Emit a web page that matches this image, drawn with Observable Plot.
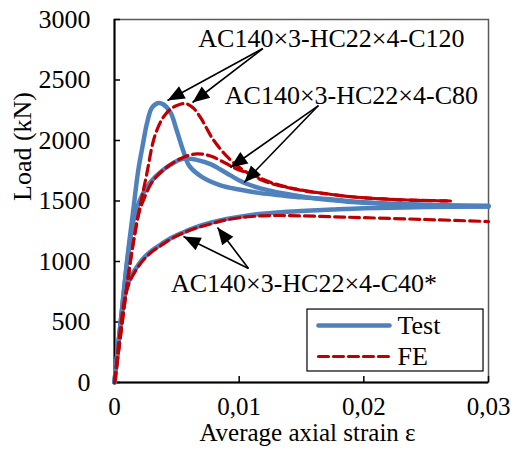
<!DOCTYPE html>
<html><head><meta charset="utf-8">
<script src="https://cdn.jsdelivr.net/npm/d3@7"></script>
<script src="https://cdn.jsdelivr.net/npm/@observablehq/plot@0.6"></script>
<style>body{margin:0;background:#fff} svg text{font-family:"Liberation Serif","Times New Roman",serif !important;}</style>
</head><body><div id="chart"></div>
<script>
// ---- data (strain, load kN) ----
const xTicks = [0, 0.01, 0.02, 0.03];
const yTicks = [0, 500, 1000, 1500, 2000, 2500, 3000];

const c120Test = [[0,0],[0.0005,500],[0.001,1000],[0.0015,1420],[0.0019,1750],[0.0023,1980],[0.0026,2140],[0.003,2270],[0.0035,2310],[0.0039,2300],[0.0045,2230],[0.005,2080],[0.0055,1920],[0.006,1790],[0.007,1700],[0.0085,1630],[0.01,1595],[0.0117,1565],[0.0135,1545],[0.015,1530],[0.0175,1512],[0.02,1490],[0.025,1468],[0.03,1460]];
const c120FE = [[0,0],[0.0005,400],[0.001,800],[0.0015,1150],[0.0021,1480],[0.0026,1730],[0.0031,1990],[0.0035,2110],[0.0039,2190],[0.0045,2260],[0.005,2290],[0.0057,2305],[0.0063,2270],[0.0069,2190],[0.0079,2010],[0.0091,1860],[0.0104,1750],[0.012,1665],[0.0135,1620],[0.015,1590],[0.019,1535],[0.023,1510],[0.027,1500]];
const c80Test = [[0,0],[0.0005,500],[0.001,980],[0.0015,1330],[0.002,1500],[0.0025,1600],[0.003,1670],[0.0037,1740],[0.0045,1800],[0.0052,1840],[0.0058,1852],[0.0066,1840],[0.0077,1805],[0.0085,1760],[0.0093,1712],[0.0103,1655],[0.0117,1605],[0.0136,1562],[0.0155,1530],[0.0173,1508],[0.02,1485],[0.025,1465],[0.03,1455]];
const c80FE = [[0,0],[0.0005,400],[0.001,800],[0.0015,1150],[0.0019,1380],[0.0023,1500],[0.0031,1669],[0.0042,1780],[0.0055,1860],[0.0066,1890],[0.0077,1872],[0.0088,1818],[0.0098,1765],[0.0109,1725],[0.0125,1655],[0.0149,1590],[0.017,1560],[0.019,1535],[0.023,1510],[0.027,1500]];
const c40Test = [[0,0],[0.0004,400],[0.0008,700],[0.0012,850],[0.0017,940],[0.0023,1025],[0.003,1090],[0.0037,1140],[0.0045,1192],[0.0055,1240],[0.0065,1282],[0.0077,1320],[0.009,1352],[0.011,1385],[0.013,1405],[0.015,1418],[0.0175,1430],[0.02,1440],[0.025,1450],[0.03,1455]];
const c40FE = [[0,0],[0.0004,380],[0.0008,680],[0.0012,830],[0.0017,925],[0.0023,1010],[0.003,1080],[0.0037,1130],[0.0045,1185],[0.0055,1235],[0.0065,1275],[0.0077,1310],[0.009,1345],[0.011,1372],[0.013,1380],[0.015,1377],[0.0175,1370],[0.02,1362],[0.025,1347],[0.03,1330]];

const seriesNames = ["C120", "C80", "C40"];
const testSeries = [c120Test, c80Test, c40Test];
const feSeries = [c120FE, c80FE, c40FE];

// annotation labels (data coordinates)
const labelTexts = ["AC140×3-HC22×4-C120", "AC140×3-HC22×4-C80", "AC140×3-HC22×4-C40*"];
const labelX = [0.0174, 0.0190, 0.0152];
const labelY = [2843, 2372, 818];
const arrowFromX = [0.0119, 0.0119, 0.01636, 0.01636, 0.01075, 0.01075];
const arrowFromY = [2760, 2760, 2289, 2289, 942, 942];
const arrowToX = [0.00425, 0.00626, 0.0093, 0.0104, 0.00553, 0.00826];
const arrowToY = [2330, 2314, 1777, 1653, 1207, 1281];

// legend
const legendNames = ["Test", "FE"];
const legendY = [471, 215];
const legendBox = {x1: 0.01548, x2: 0.0296, y1: 91, y2: 603};
const legendLineX = [0.01636, 0.02206];
const legendTextX = 0.0227;

// ---- layout ----
const W = 511, H = 452, mL = 114, mR = 23, mT = 19, mB = 70;
const kx = (W - mL - mR) / 0.03, ky = (H - mT - mB) / 3000;
const blue = "#4F81BD", red = "#C00000";
const font = "Liberation Serif, Times New Roman, serif";

const toRows = (arr, type) => arr.flatMap((s, i) => s.map(([x, y]) => ({series: seriesNames[i], type, x, y})));
const testRows = toRows(testSeries, "Test");
const feRows = toRows(feSeries, "FE");

const arrows = arrowToX.map((x2, i) => {
  const dx = (x2 - arrowFromX[i]) * kx;
  const dy = -(arrowToY[i] - arrowFromY[i]) * ky;
  return {x1: arrowFromX[i], y1: arrowFromY[i], x2, y2: arrowToY[i], rot: Math.atan2(dx, -dy) * 180 / Math.PI};
});
const headSymbol = {draw(ctx) { ctx.moveTo(0, 0); ctx.lineTo(-7, 17); ctx.lineTo(7, 17); ctx.closePath(); }};

const labels = labelTexts.map((t, i) => ({t, x: labelX[i], y: labelY[i]}));
const legendRows = legendNames.map((n, i) => ({n, y: legendY[i]}));
const legendLines = legendRows.flatMap(r => legendLineX.map(x => ({n: r.n, x, y: r.y})));

const fmt = d => d === 0 ? "0" : d.toFixed(2).replace(".", ",");

const chart = Plot.plot({
  width: W, height: H,
  marginLeft: mL, marginRight: mR, marginTop: mT, marginBottom: mB,
  style: {fontFamily: font, fontSize: "26px", color: "black", background: "white"},
  x: {domain: [0, 0.03], axis: null},
  y: {domain: [0, 3000], axis: null},
  marks: [
    Plot.frame({stroke: "#595959", strokeWidth: 1.5}),
    Plot.tickY(yTicks, {y: d => d, stroke: "black", strokeWidth: 1.5, insetRight: (W - mL - mR) - 6}),
    Plot.tickX(xTicks, {x: d => d, stroke: "black", strokeWidth: 1.5, insetTop: (H - mT - mB) - 6}),
    Plot.ruleX([0], {stroke: "black", strokeWidth: 2}),
    Plot.ruleY([0], {stroke: "black", strokeWidth: 2}),
    Plot.axisY(yTicks, {tickSize: 0, tickPadding: 24, fontSize: 26, fontFamily: font, fontVariant: "normal", label: null, tickFormat: d => String(d)}),
    Plot.axisX(xTicks, {tickSize: 0, tickPadding: 15, fontSize: 25, fontFamily: font, fontVariant: "normal", label: null, tickFormat: fmt}),
    Plot.text(["Average axial strain ε"], {frameAnchor: "bottom", dx: 6, dy: 58, fontSize: 25, fontFamily: font, text: d => d}),
    Plot.text(["Load (kN)"], {frameAnchor: "left", dx: -92, rotate: -90, fontSize: 26, fontFamily: font, text: d => d}),
    Plot.line(testRows, {x: "x", y: "y", z: "series", stroke: blue, strokeWidth: 4.5, curve: "catmull-rom"}),
    Plot.line(feRows, {x: "x", y: "y", z: "series", stroke: red, strokeWidth: 3.2, strokeDasharray: "10,5", curve: "catmull-rom"}),
    Plot.link(arrows, {x1: "x1", y1: "y1", x2: "x2", y2: "y2", stroke: "black", strokeWidth: 1.6}),
    Plot.dot(arrows, {x: "x2", y: "y2", rotate: "rot", symbol: headSymbol, fill: "black", stroke: null, r: 5}),
    Plot.text(labels, {x: "x", y: "y", text: "t", fontSize: 26, fontFamily: font, fill: "black"}),
    Plot.rect([legendBox], {x1: "x1", x2: "x2", y1: "y1", y2: "y2", fill: "white", stroke: "black", strokeWidth: 1.2}),
    Plot.line(legendLines.filter(d => d.n === "Test"), {x: "x", y: "y", stroke: blue, strokeWidth: 4.5, strokeLinecap: "round"}),
    Plot.line(legendLines.filter(d => d.n === "FE"), {x: "x", y: "y", stroke: red, strokeWidth: 3.2, strokeDasharray: "10,5"}),
    Plot.text(legendRows, {x: () => legendTextX, y: "y", text: "n", textAnchor: "start", fontSize: 26, fontFamily: font, fill: "black"})
  ]
});
document.getElementById("chart").appendChild(chart);
</script>
</body></html>
